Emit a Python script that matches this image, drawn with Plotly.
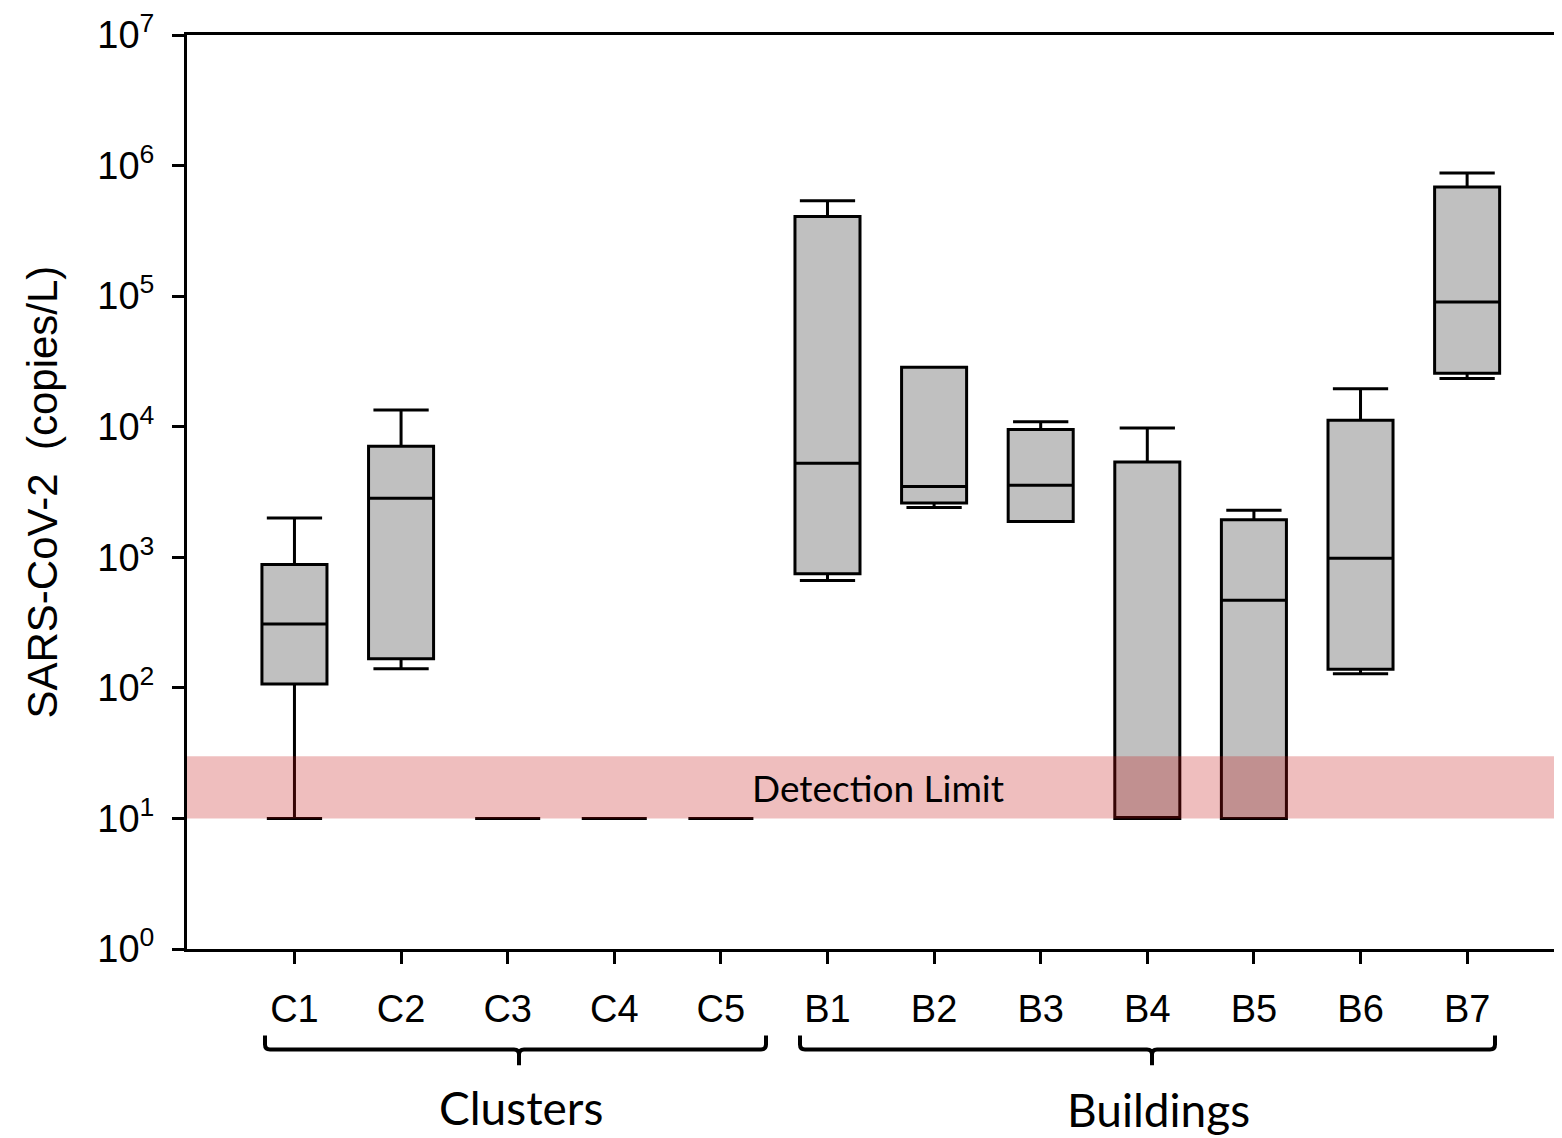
import plotly.graph_objects as go

categories = ["C1", "C2", "C3", "C4", "C5", "B1", "B2", "B3", "B4", "B5", "B6", "B7"]
lower_whisker = [10, 140, 10, 10, 10, 665, 2410, 1880, 10, 10, 128, 23400]
q1_values = [107, 167, 10, 10, 10, 748, 2600, 1880, 10, 10, 139, 25700]
median_values = [308, 2830, 10, 10, 10, 5240, 3480, 3560, 10, 469, 984, 90300]
q3_values = [881, 7100, 10, 10, 10, 408000, 28500, 9510, 5370, 1940, 11200, 686000]
upper_whisker = [1995, 13400, 10, 10, 10, 537000, 28500, 10900, 9790, 2296, 19500, 877000]

y_tick_values = [1, 10, 100, 1000, 10000, 100000, 1000000, 10000000]
y_tick_labels = ["10<sup>0</sup>", "10<sup>1</sup>", "10<sup>2</sup>", "10<sup>3</sup>",
                 "10<sup>4</sup>", "10<sup>5</sup>", "10<sup>6</sup>", "10<sup>7</sup>"]

detection_low = 10
detection_high = 30
group_labels = ["Clusters", "Buildings"]

positions = list(range(len(categories)))

# page body has an 8px margin; work in page pixels and convert
OFF = 8
W, H = 1375.0, 919.0
L_PAGE, T_PAGE, B_PAGE = 187.0, 30.0, 949.0
FIG_H = 1150

fig = go.Figure()
fig.add_trace(go.Box(
    x=positions,
    q1=q1_values,
    median=median_values,
    q3=q3_values,
    lowerfence=lower_whisker,
    upperfence=upper_whisker,
    width=0.61,
    whiskerwidth=0.85,
    fillcolor="#c0c0c0",
    line=dict(color="black", width=3),
    boxpoints=False,
    hoverinfo="skip",
    showlegend=False,
))

# detection limit band (drawn above boxes)
fig.add_shape(type="rect", xref="paper", x0=0, x1=1, yref="y",
              y0=detection_low, y1=detection_high,
              fillcolor="rgba(195,15,15,0.27)", line=dict(width=0), layer="above")
fig.add_annotation(text="Detection Limit", xref="paper", x=0.5025, yref="y", y=1.24,
                   showarrow=False, font=dict(family="Lato", size=37, color="black"),
                   xanchor="center", yanchor="middle")


def px(xp):
    return (xp - L_PAGE) / W


def py(yp):
    return (B_PAGE - yp) / H


def bracket(x_left, x_right, x_mid):
    top = 1036
    base = 1050
    tip = 1066
    r = 5
    path = (f"M {px(x_left)},{py(top)} L {px(x_left)},{py(base - r)} "
            f"Q {px(x_left)},{py(base)} {px(x_left + r)},{py(base)} "
            f"L {px(x_mid - r)},{py(base)} Q {px(x_mid)},{py(base)} {px(x_mid)},{py(base + r)} "
            f"L {px(x_mid)},{py(tip)} M {px(x_mid)},{py(base + r)} "
            f"Q {px(x_mid)},{py(base)} {px(x_mid + r)},{py(base)} "
            f"L {px(x_right - r)},{py(base)} Q {px(x_right)},{py(base)} {px(x_right)},{py(base - r)} "
            f"L {px(x_right)},{py(top)}")
    fig.add_shape(type="path", xref="paper", yref="paper", path=path,
                  line=dict(color="black", width=4))


bracket(265, 766, 519)
bracket(800, 1495, 1152)

fig.add_annotation(text=group_labels[0], xref="paper", yref="paper", x=px(521), y=py(1108),
                   showarrow=False, font=dict(family="Lato", size=46, color="black"),
                   xanchor="center", yanchor="middle")
fig.add_annotation(text=group_labels[1], xref="paper", yref="paper", x=px(1158), y=py(1110),
                   showarrow=False, font=dict(family="Lato", size=46, color="black"),
                   xanchor="center", yanchor="middle")

# y-axis title
fig.add_annotation(text="SARS-CoV-2  (copies/L)", xref="paper", yref="paper",
                   x=px(42), y=py(490), textangle=-90, showarrow=False,
                   font=dict(family="Arial, Liberation Sans", size=42, color="black"),
                   xanchor="center", yanchor="middle")

fig.update_layout(
    width=int(L_PAGE - OFF + W), height=FIG_H,
    margin=dict(l=L_PAGE - OFF, r=0, t=T_PAGE - OFF,
                b=FIG_H - (T_PAGE - OFF) - H, pad=0),
    plot_bgcolor="white", paper_bgcolor="white",
    font=dict(family="Arial, Liberation Sans", color="black"),
    xaxis=dict(
        range=[-1.008, 11.89],
        tickvals=positions, ticktext=categories,
        showline=True, linecolor="black", linewidth=3, mirror=True,
        ticks="outside", ticklen=12, tickwidth=3, tickcolor="black",
        tickfont=dict(size=38, family="Arial, Liberation Sans", color="black"),
        ticklabelstandoff=12,
        showgrid=False, zeroline=False,
    ),
    yaxis=dict(
        type="log", range=[0, 7],
        tickvals=y_tick_values, ticktext=y_tick_labels,
        showline=True, linecolor="black", linewidth=3,
        ticks="outside", ticklen=12, tickwidth=3, tickcolor="black",
        tickfont=dict(size=38, family="Arial, Liberation Sans", color="black"),
        ticklabelstandoff=10, ticklabeloverflow="allow",
        showgrid=False, zeroline=False,
    ),
)

fig.write_html("out.html",
               post_script="document.documentElement.style.overflow='hidden';"
                           "document.body.style.overflow='hidden';")
